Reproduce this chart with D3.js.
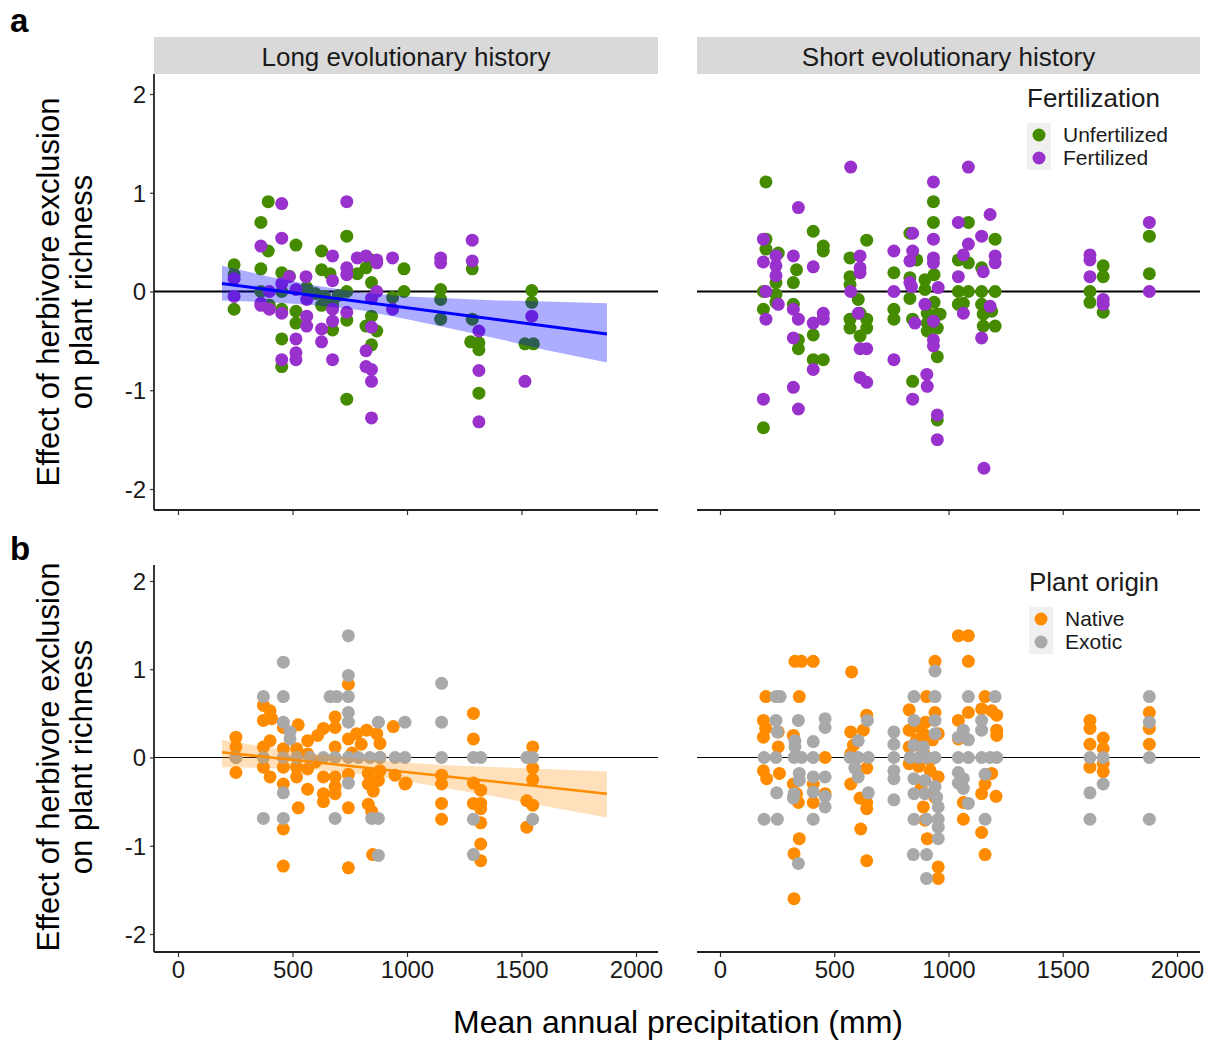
<!DOCTYPE html>
<html>
<head>
<meta charset="utf-8">
<script src="https://cdn.jsdelivr.net/npm/d3@7"></script>
<style>
  body { margin: 0; background: #fff; }
  text { font-family: "Liberation Sans", Arial, sans-serif; }
</style>
</head>
<body>
<div id="chart"></div>
<script>
// Facet titles, legend entries, ticks
var facetTitles = ["Long evolutionary history", "Short evolutionary history"];
var fertLabels = ["Unfertilized", "Fertilized"];
var originLabels = ["Native", "Exotic"];
var xTicks = [0, 500, 1000, 1500, 2000];
var yTicks = [-2, -1, 0, 1, 2];

// Panel a, long history: [precipitation (mm), effect]
var longUnfert = [[245,0.27],[245,0.17],[245,-0.18],[362,0.70],[362,0.23],[362,0.00],[394,0.91],[394,0.41],[399,-0.14],[453,0.19],[453,0.00],[453,-0.18],[453,-0.48],[453,-0.76],[486,0.155],[515,0.47],[515,-0.20],[515,-0.32],[562,0.04],[600,-0.02],[627,0.41],[627,0.22],[627,-0.14],[640,-0.05],[664,0.18],[675,-0.13],[675,-0.39],[700,-0.04],[737,0.56],[737,0.00],[737,-0.29],[737,-1.09],[783,0.18],[821,0.24],[821,-0.35],[845,0.32],[845,0.09],[845,-0.25],[845,-0.54],[868,-0.40],[937,-0.06],[987,0.23],[987,0.00],[1147,0.02],[1147,-0.08],[1147,-0.28],[1285,0.23],[1285,-0.28],[1278,-0.51],[1314,-0.52],[1314,-0.59],[1314,-1.03],[1545,0.01],[1545,-0.11],[1515,-0.53],[1552,-0.53]];
var longFert = [[245,0.13],[245,-0.05],[362,0.46],[362,-0.14],[362,-0.12],[399,0.0],[399,-0.18],[453,0.89],[453,0.54],[453,0.08],[453,-0.22],[453,-0.69],[486,0.15],[515,0.02],[515,-0.48],[515,-0.62],[515,-0.69],[559,0.15],[562,-0.08],[562,-0.25],[562,-0.35],[627,-0.38],[627,-0.51],[675,0.36],[675,0.11],[675,-0.18],[675,-0.30],[675,-0.69],[737,0.91],[737,0.24],[737,0.17],[737,-0.21],[783,0.34],[821,0.36],[821,-0.60],[821,-0.76],[845,-0.07],[845,-0.36],[845,-0.79],[845,-0.91],[845,-1.28],[868,0.32],[868,0.29],[868,0.0],[937,0.34],[937,-0.18],[1147,0.34],[1147,0.29],[1285,0.52],[1285,0.31],[1314,-0.40],[1314,-0.80],[1314,-1.32],[1545,-0.25],[1515,-0.91]];

// Panel a, short history
var shortUnfert = [[201,1.11],[190,-1.38],[201,0.53],[201,0.43],[255,0.39],[245,0.09],[245,-0.03],[245,-0.11],[190,0.0],[190,-0.18],[321,0.09],[335,0.22],[321,-0.13],[343,-0.49],[343,-0.58],[408,0.61],[408,-0.44],[408,-0.69],[452,0.46],[452,0.41],[452,-0.69],[569,0.34],[569,0.15],[569,0.07],[642,0.52],[605,-0.08],[613,-0.22],[569,-0.28],[569,-0.37],[642,-0.28],[642,-0.37],[613,-0.45],[761,0.19],[761,-0.18],[761,-0.28],[831,0.59],[831,0.14],[831,-0.07],[843,-0.28],[843,-0.91],[861,0.32],[897,0.12],[897,0.02],[907,-0.22],[907,-0.32],[907,-0.40],[934,0.91],[934,0.70],[937,0.17],[937,-0.11],[951,-0.23],[951,-0.37],[951,-0.66],[951,-1.30],[963,-0.23],[1087,0.70],[1043,0.32],[1087,0.29],[1043,0.0],[1087,0.0],[1145,0.0],[1204,0.0],[1043,-0.13],[1065,-0.12],[1145,0.24],[1145,-0.13],[1152,-0.23],[1152,-0.35],[1204,-0.35],[1204,0.53],[1189,-0.20],[1619,0.0],[1619,-0.11],[1677,0.26],[1677,0.15],[1677,-0.21],[1879,0.56],[1879,0.18]];
var shortFert = [[572,1.26],[343,0.85],[190,0.53],[190,0.30],[201,0.0],[201,-0.28],[245,0.36],[245,0.26],[245,0.16],[255,-0.13],[321,0.36],[321,-0.18],[343,-0.28],[321,-0.47],[321,-0.97],[343,-1.19],[190,-1.09],[408,0.25],[408,-0.32],[408,-0.79],[452,-0.22],[452,-0.28],[613,0.36],[613,0.24],[613,0.19],[572,0.0],[605,-0.22],[613,-0.58],[642,-0.58],[613,-0.87],[642,-0.92],[761,0.41],[761,0.0],[761,-0.69],[843,0.59],[843,0.41],[831,0.31],[831,0.09],[838,0.05],[853,-0.32],[843,-1.09],[905,-0.84],[907,-0.96],[934,1.11],[934,0.53],[934,0.34],[934,0.29],[955,0.04],[897,-0.13],[934,-0.30],[934,-0.49],[934,-0.55],[951,-1.25],[951,-1.50],[1087,1.26],[1043,0.70],[1087,0.48],[1182,0.78],[1145,0.56],[1204,0.36],[1204,0.29],[1065,0.37],[1043,0.15],[1152,0.20],[1065,-0.22],[1182,-0.15],[1145,-0.47],[1155,-1.79],[1619,0.37],[1619,0.32],[1619,0.15],[1677,-0.08],[1677,-0.13],[1879,0.70],[1879,0.0]];

// Panel b, long history
var longNative = [[744,0.83],[373,0.59],[402,0.53],[409,0.44],[373,0.42],[460,0.34],[525,0.37],[635,0.33],[686,0.46],[686,0.34],[744,0.21],[780,0.27],[824,0.31],[868,0.27],[882,0.16],[940,0.35],[253,0.23],[253,0.12],[253,0.0],[253,-0.17],[373,0.12],[402,0.19],[460,0.10],[460,-0.11],[460,-0.30],[518,0.10],[518,-0.11],[518,-0.22],[566,0.19],[566,0.04],[566,-0.13],[566,-0.36],[600,-0.05],[610,0.25],[373,-0.11],[402,-0.22],[635,-0.22],[635,-0.41],[635,-0.50],[686,0.12],[686,-0.22],[686,-0.33],[686,-0.41],[744,-0.19],[744,-0.57],[760,0.05],[800,0.15],[831,-0.18],[831,-0.30],[853,-0.38],[831,-0.53],[846,-0.61],[882,0.0],[882,-0.15],[875,-0.26],[948,-0.20],[991,-0.30],[525,-0.57],[460,-0.81],[460,-1.23],[744,-1.25],[850,-1.10],[1290,0.50],[1290,0.21],[1549,0.12],[1549,-0.12],[1549,-0.25],[1523,-0.49],[1549,-0.54],[1523,-0.79],[1151,-0.20],[1151,-0.30],[1151,-0.52],[1151,-0.70],[996,-0.29],[1290,-0.29],[1290,-0.52],[1322,-0.37],[1322,-0.52],[1322,-0.58],[1322,-0.74],[1322,-0.98],[1322,-1.17]];
var longExotic = [[744,1.38],[460,1.08],[744,0.93],[373,0.69],[460,0.69],[664,0.69],[693,0.69],[744,0.69],[744,0.51],[744,0.40],[460,0.40],[489,0.29],[489,0.21],[875,0.40],[991,0.40],[253,0.0],[373,0.0],[460,0.0],[518,0.0],[576,0.0],[635,0.0],[686,0.0],[744,0.0],[788,0.0],[838,0.0],[882,0.0],[948,0.0],[991,0.0],[460,-0.40],[744,-0.29],[373,-0.69],[460,-0.69],[686,-0.69],[846,-0.69],[875,-0.69],[875,-1.11],[1151,0.84],[1151,0.40],[1151,0.0],[1290,0.0],[1322,0.0],[1523,0.0],[1549,0.0],[1290,-0.70],[1290,-1.10],[1549,-0.70]];

// Panel b, short history
var shortNative = [[328,1.09],[357,1.09],[408,1.09],[576,0.97],[941,1.09],[201,0.69],[347,0.69],[904,0.69],[190,0.42],[190,0.23],[200,0.33],[255,0.29],[255,0.12],[190,-0.15],[204,-0.24],[260,-0.18],[321,0.25],[321,-0.30],[343,-0.51],[335,-0.41],[347,-0.92],[324,-1.09],[324,-1.60],[408,-0.51],[408,-0.30],[460,0.0],[460,-0.41],[572,0.29],[584,0.14],[572,0.04],[642,0.48],[627,0.31],[572,-0.30],[642,-0.12],[613,-0.46],[642,-0.51],[642,-0.58],[616,-0.81],[642,-1.17],[828,0.54],[828,0.31],[828,0.12],[828,-0.07],[860,0.20],[870,0.35],[870,-0.10],[880,-0.35],[890,0.27],[890,0.06],[900,0.40],[910,0.20],[919,-0.03],[920,-0.15],[930,0.20],[940,-0.45],[890,-0.56],[897,-0.71],[907,-0.92],[941,0.51],[955,0.27],[955,-0.22],[955,-1.24],[955,-1.37],[1043,1.38],[1087,1.38],[1087,1.09],[1160,0.69],[1087,0.51],[1145,0.55],[1189,0.53],[1211,0.48],[1043,0.42],[1043,0.21],[1211,0.31],[1211,0.25],[1189,-0.18],[1160,-0.30],[1145,-0.41],[1208,-0.44],[1065,-0.51],[1065,-0.70],[1145,-0.85],[1160,-1.10],[1619,0.42],[1619,0.33],[1619,0.15],[1619,-0.11],[1677,0.22],[1677,0.10],[1677,-0.07],[1677,-0.16],[1879,0.51],[1879,0.33],[1879,0.15]];
var shortExotic = [[245,0.69],[263,0.69],[245,0.42],[251,0.29],[193,0.0],[245,0.0],[324,0.0],[357,0.0],[408,0.0],[248,-0.40],[193,-0.70],[251,-0.70],[343,0.42],[328,0.19],[328,0.12],[347,-0.18],[347,-0.26],[324,-0.41],[321,-0.46],[343,-1.20],[408,0.18],[408,-0.22],[408,-0.39],[460,0.44],[460,0.34],[460,-0.22],[460,-0.44],[460,-0.56],[408,-0.70],[569,0.0],[605,0.0],[649,0.0],[605,0.19],[645,0.42],[590,-0.12],[605,-0.22],[649,-0.40],[761,0.29],[761,0.15],[761,0.0],[761,-0.15],[761,-0.24],[761,-0.48],[849,0.69],[941,0.69],[941,0.98],[849,0.42],[941,0.42],[941,0.27],[849,0.14],[890,0.12],[832,0.0],[871,0.0],[906,0.0],[941,0.0],[849,-0.24],[849,-0.41],[897,-0.26],[897,-0.41],[941,-0.33],[948,-0.45],[955,-0.56],[849,-0.70],[904,-0.70],[955,-0.70],[955,-0.79],[955,-0.92],[846,-1.10],[904,-1.10],[904,-1.37],[1087,0.69],[1204,0.69],[1145,0.42],[1145,0.31],[1065,0.31],[1043,0.23],[1087,0.20],[1043,0.0],[1087,0.0],[1145,0.0],[1182,0.0],[1211,0.0],[1043,-0.17],[1065,-0.24],[1043,-0.29],[1065,-0.35],[1087,-0.52],[1160,-0.19],[1160,-0.70],[1619,0.0],[1619,-0.40],[1619,-0.70],[1677,0.0],[1677,-0.30],[1879,0.69],[1879,0.40],[1879,0.0],[1879,-0.70]];

// Linear fits (long history only) and their confidence bands
var fitX = [192, 1873];
var fitYA = [0.08, -0.43];
var fitYB = [0.06, -0.41];
var bandX = [192, 400, 600, 800, 1000, 1200, 1400, 1600, 1873];
var bandLoA = [-0.09, -0.11, -0.14, -0.19, -0.28, -0.38, -0.48, -0.59, -0.72];
var bandHiA = [0.26, 0.15, 0.06, -0.01, -0.05, -0.07, -0.09, -0.10, -0.12];
var bandLoB = [-0.11, -0.12, -0.14, -0.19, -0.27, -0.36, -0.45, -0.55, -0.68];
var bandHiB = [0.20, 0.11, 0.04, -0.02, -0.06, -0.09, -0.11, -0.13, -0.16];

var colGreen = "#458B00", colPurple = "#9932CC", colOrange = "#FF8C00", colGray = "#A9A9A9";

var svg = d3.select("#chart").append("svg")
  .attr("width", 1214).attr("height", 1041);

// panel extents in pixels
var cols = [{x0: 154, x1: 658, r0: 178, r1: 636}, {x0: 697, x1: 1200, r0: 720, r1: 1177}];
var rows = [{y0: 74, y1: 510, r0: 489, r1: 94}, {y0: 565, y1: 952, r0: 934, r1: 581}];

var xs = cols.map(function(c) { return d3.scaleLinear().domain([0, 2000]).range([c.r0, c.r1]); });
var ys = rows.map(function(r) { return d3.scaleLinear().domain([-2, 2]).range([r.r0, r.r1]); });

// strips for the top row
facetTitles.forEach(function(t, i) {
  svg.append("rect").attr("x", cols[i].x0).attr("y", 37)
    .attr("width", cols[i].x1 - cols[i].x0).attr("height", 37).attr("fill", "#d9d9d9");
  svg.append("text").attr("x", (cols[i].x0 + cols[i].x1) / 2).attr("y", 66)
    .attr("text-anchor", "middle").style("font-size", "26px").attr("fill", "#1a1a1a").text(t);
});

function drawPanel(row, col, series, zeroWidth) {
  var x = xs[col], y = ys[row];
  var g = svg.append("g");
  // zero reference line
  g.append("line").attr("x1", cols[col].x0).attr("x2", cols[col].x1)
    .attr("y1", y(0)).attr("y2", y(0)).attr("stroke", "#000").attr("stroke-width", zeroWidth);
  series.forEach(function(s) {
    g.selectAll(null).data(s.data).enter().append("circle")
      .attr("cx", function(d) { return x(d[0]); })
      .attr("cy", function(d) { return y(d[1]); })
      .attr("r", 6.5).attr("fill", s.color);
  });
  // bottom axis
  var bx = svg.append("g").attr("transform", "translate(0," + rows[row].y1 + ")")
    .call(d3.axisBottom(x).tickValues(xTicks).tickSize(5).tickSizeOuter(0).tickFormat(function(d) { return d; }));
  bx.select(".domain").remove();
  bx.selectAll(".tick line").attr("stroke", "#333").attr("stroke-width", 1.2);
  bx.selectAll(".tick text").attr("dy", null).attr("y", 26)
    .style("font-size", "24px").attr("fill", "#1a1a1a")
    .style("font-family", "'Liberation Sans', Arial, sans-serif");
  if (row === 0) bx.selectAll(".tick text").remove();
  svg.append("line").attr("x1", cols[col].x0).attr("x2", cols[col].x1)
    .attr("y1", rows[row].y1).attr("y2", rows[row].y1).attr("stroke", "#222").attr("stroke-width", 1.8);
  // left axis only on first column
  if (col === 0) {
    var ly = svg.append("g").attr("transform", "translate(" + cols[col].x0 + ",0)")
      .call(d3.axisLeft(y).tickValues(yTicks).tickSize(4).tickSizeOuter(0).tickFormat(function(d) { return String(d); }));
    ly.select(".domain").remove();
    ly.selectAll(".tick line").attr("stroke", "#333").attr("stroke-width", 1.2);
    ly.selectAll(".tick text").attr("x", -8).attr("dy", "0.35em")
      .style("font-size", "24px").attr("fill", "#1a1a1a")
      .style("font-family", "'Liberation Sans', Arial, sans-serif");
    svg.append("line").attr("x1", cols[col].x0).attr("x2", cols[col].x0)
      .attr("y1", rows[row].y0).attr("y2", rows[row].y1).attr("stroke", "#222").attr("stroke-width", 1.8);
  }
  return g;
}

function drawFit(g, row, fitY, lo, hi, color, bandOpacity, lineWidth) {
  var x = xs[0], y = ys[row];
  var band = bandX.map(function(v, i) { return [v, lo[i], hi[i]]; });
  g.append("path").datum(band)
    .attr("d", d3.area().x(function(d) { return x(d[0]); })
      .y0(function(d) { return y(d[1]); }).y1(function(d) { return y(d[2]); }))
    .attr("fill", color).attr("fill-opacity", bandOpacity);
  g.append("path").datum(fitX.map(function(v, i) { return [v, fitY[i]]; }))
    .attr("d", d3.line().x(function(d) { return x(d[0]); }).y(function(d) { return y(d[1]); }))
    .attr("stroke", color).attr("stroke-width", lineWidth).attr("fill", "none");
}

var gA0 = drawPanel(0, 0, [{data: longUnfert, color: colGreen}, {data: longFert, color: colPurple}], 2);
drawPanel(0, 1, [{data: shortUnfert, color: colGreen}, {data: shortFert, color: colPurple}], 2);
var gB0 = drawPanel(1, 0, [{data: longNative, color: colOrange}, {data: longExotic, color: colGray}], 1.2);
drawPanel(1, 1, [{data: shortNative, color: colOrange}, {data: shortExotic, color: colGray}], 1.2);

drawFit(gA0, 0, fitYA, bandLoA, bandHiA, "#0000FF", 0.32, 3);
drawFit(gB0, 1, fitYB, bandLoB, bandHiB, colOrange, 0.27, 2.5);

// legends
function drawLegend(x0, yTitle, title, labels, colors) {
  svg.append("text").attr("x", x0).attr("y", yTitle).style("font-size", "26px")
    .attr("fill", "#1a1a1a").text(title);
  svg.append("rect").attr("x", x0).attr("y", yTitle + 16).attr("width", 24).attr("height", 47).attr("fill", "#f0f0f0");
  labels.forEach(function(l, i) {
    var cy = yTitle + 28 + i * 23;
    svg.append("circle").attr("cx", x0 + 12).attr("cy", cy).attr("r", 6.5).attr("fill", colors[i]);
    svg.append("text").attr("x", x0 + 36).attr("y", cy + 7).style("font-size", "21px")
      .attr("fill", "#1a1a1a").text(l);
  });
}
drawLegend(1027, 107, "Fertilization", fertLabels, [colGreen, colPurple]);
drawLegend(1029, 591, "Plant origin", originLabels, [colOrange, colGray]);

// y axis titles
[292, 757].forEach(function(cy) {
  var t = svg.append("text").attr("transform", "translate(59," + cy + ") rotate(-90)")
    .attr("text-anchor", "middle").style("font-size", "31px").attr("fill", "#000");
  t.append("tspan").attr("x", 0).attr("y", 0).text("Effect of herbivore exclusion");
  t.append("tspan").attr("x", 0).attr("y", 33).text("on plant richness");
});

// x axis title
svg.append("text").attr("x", 678).attr("y", 1033).attr("text-anchor", "middle")
  .style("font-size", "32px").attr("fill", "#000").text("Mean annual precipitation (mm)");

// panel letters
svg.append("text").attr("x", 10).attr("y", 32).style("font-size", "33px").style("font-weight", "bold").text("a");
svg.append("text").attr("x", 10).attr("y", 560).style("font-size", "33px").style("font-weight", "bold").text("b");
</script>
</body>
</html>
